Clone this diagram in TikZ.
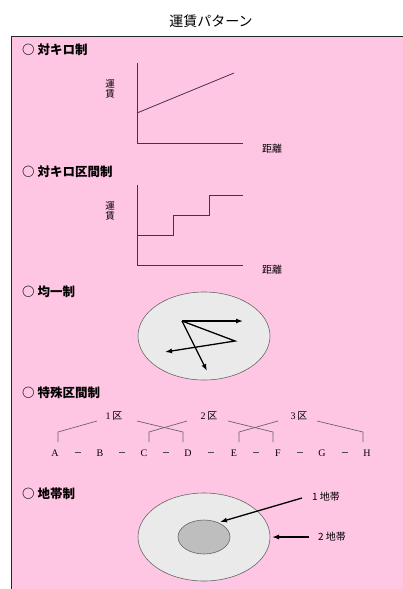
\documentclass[tikz,border=0pt]{standalone}
\usepackage{fontspec}
\setmainfont{Noto Sans CJK JP}
\newfontfamily\latinserif{Liberation Serif}
\usetikzlibrary{arrows.meta,shapes.geometric}
\definecolor{pinkbg}{RGB}{255,198,228}
\definecolor{lightgr}{RGB}{234,234,234}
\definecolor{midgr}{RGB}{190,190,190}
\definecolor{axisc}{RGB}{70,50,70}
\tikzset{
  head/.style={anchor=west, font=\fontsize{12.5}{14}\selectfont\bfseries, inner sep=0pt},
  lbl/.style={font=\fontsize{10}{11}\selectfont, inner sep=0pt},
  vlbl/.style={font=\fontsize{9.5}{9.5}\selectfont, inner sep=0pt, align=center},
  axis/.style={draw=axisc, line width=0.8pt},
  curve/.style={draw=axisc, line width=0.8pt},
  arr/.style={draw=black, line width=1.3pt, -{Latex[length=7pt,width=5pt]}},
  brk/.style={draw=black!60, line width=0.7pt},
  letter/.style={font=\latinserif\fontsize{10}{11}\selectfont, inner sep=0pt},
  kulbl/.style={font=\fontsize{10}{11}\selectfont, inner sep=0pt},
  zone/.style={font=\fontsize{10}{11}\selectfont, inner sep=0pt},
}
\begin{document}
\begin{tikzpicture}[x=1pt,y=-1pt]
\useasboundingbox (0,0) rectangle (403,589);
% background
\fill[pinkbg] (11,36) rectangle (403,589);
\draw[black!85, line width=0.9pt] (11,589) -- (11,36) -- (403,36);
\node[font=\fontsize{14}{16}\selectfont, inner sep=0pt] (title) at (211,21) {運賃パターン};

% section 1
\node[head] (h1) at (22,50) {○ 対キロ制};
\coordinate (o1) at (137,143);
\coordinate (t1) at (137,63);
\coordinate (r1) at (243,143);
\draw[axis] (t1) -- (o1) -- (r1);
\coordinate (a1) at (137,113);
\coordinate (b1) at (234,73);
\draw[curve] (a1) -- (b1);
\node[vlbl] (y1) at (110,89) {運\\賃};
\node[lbl] (x1) at (272,149) {距離};

% section 2
\node[head] (h2) at (22,172) {○ 対キロ区間制};
\coordinate (o2) at (137,265);
\coordinate (t2) at (137,185);
\coordinate (r2) at (243,265);
\draw[axis] (t2) -- (o2) -- (r2);
\coordinate (s0) at (137,235);
\coordinate (s1) at (173,235);
\coordinate (s2) at (173,215);
\coordinate (s3) at (209,215);
\coordinate (s4) at (209,195);
\coordinate (s5) at (243,195);
\draw[curve] (s0) -- (s1) -- (s2) -- (s3) -- (s4) -- (s5);
\node[vlbl] (y2) at (110,211) {運\\賃};
\node[lbl] (x2) at (272,270) {距離};

% section 3
\node[head] (h3) at (22,292) {○ 均一制};
\node[draw=black!60, line width=0.6pt, fill=lightgr, ellipse, minimum width=132pt, minimum height=88pt, inner sep=0pt] (e3) at (204,336) {};
\coordinate (p0) at (182,321);
\coordinate (p1) at (243,321);
\coordinate (p2) at (235,341);
\coordinate (p3) at (165,352);
\coordinate (p4) at (207,371);
\draw[arr] (p0) -- (p1);
\draw[arr] (p0) -- (p2) -- (p3);
\draw[arr] (p0) -- (p4);

% section 4
\node[head] (h4) at (22,393) {○ 特殊区間制};
\node[kulbl] (k1) at (114,416) {{\latinserif 1}\,区};
\node[kulbl] (k2) at (209,416) {{\latinserif 2}\,区};
\node[kulbl] (k3) at (299,416) {{\latinserif 3}\,区};
\foreach \n/\x in {A/55,B/100,C/144,D/188,E/234,F/278,G/322,H/367}{
  \node[letter] (L\n) at (\x,453) {\n};
}
\foreach \x in {77.5,122,166,211,256,300,344.5}{
  \draw[black!70, line width=0.6pt] (\x-3,452) -- (\x+3,452);
}
\coordinate (q1a) at (58,442); \coordinate (q1b) at (58,432); \coordinate (q1c) at (97,421);
\coordinate (q2a) at (137,421); \coordinate (q2b) at (183,432); \coordinate (q2c) at (183,442);
\coordinate (q3a) at (149,442); \coordinate (q3b) at (149,432); \coordinate (q3c) at (187,421);
\coordinate (q4a) at (228,421); \coordinate (q4b) at (273,432); \coordinate (q4c) at (273,442);
\coordinate (q5a) at (239,442); \coordinate (q5b) at (239,432); \coordinate (q5c) at (278,421);
\coordinate (q6a) at (317,421); \coordinate (q6b) at (363,432); \coordinate (q6c) at (363,442);
\draw[brk] (q1a) -- (q1b) -- (q1c);
\draw[brk] (q2a) -- (q2b) -- (q2c);
\draw[brk] (q3a) -- (q3b) -- (q3c);
\draw[brk] (q4a) -- (q4b) -- (q4c);
\draw[brk] (q5a) -- (q5b) -- (q5c);
\draw[brk] (q6a) -- (q6b) -- (q6c);

% section 5
\node[head] (h5) at (22,494) {○ 地帯制};
\node[draw=black!60, line width=0.6pt, fill=lightgr, ellipse, minimum width=132pt, minimum height=88pt, inner sep=0pt] (outer) at (204,537) {};
\node[draw=black!60, line width=0.6pt, fill=midgr, ellipse, minimum width=52pt, minimum height=34pt, inner sep=0pt] (inner) at (204,537) {};
\node[zone, anchor=west] (z1) at (312,497) {1 地帯};
\node[zone, anchor=west] (z2) at (318,537) {2 地帯};
\coordinate (z1s) at (302,498);
\coordinate (z1e) at (220,522);
\coordinate (z2s) at (309,537);
\coordinate (z2e) at (272,537);
\draw[arr] (z1s) -- (z1e);
\draw[arr] (z2s) -- (z2e);
\end{tikzpicture}
\end{document}
